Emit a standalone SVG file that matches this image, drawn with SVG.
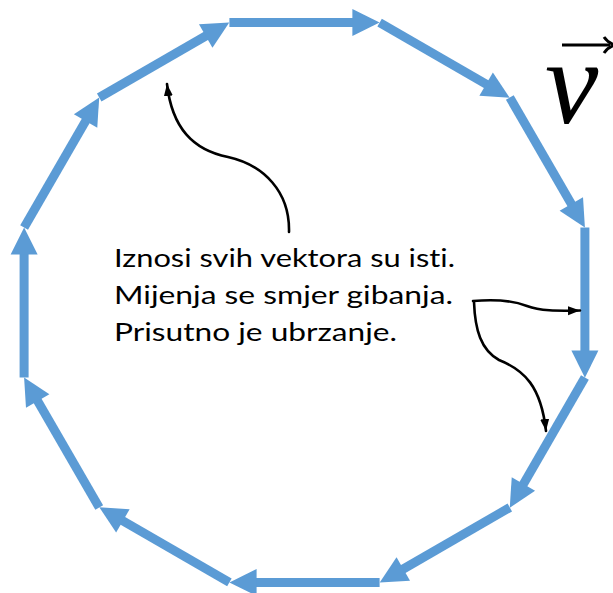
<svg xmlns="http://www.w3.org/2000/svg" xmlns:xlink="http://www.w3.org/1999/xlink" width="613" height="593" viewBox="0 0 613 593">
<style>
.shaft{stroke:#5B9BD5;stroke-width:9;fill:none;stroke-linecap:butt}
.head{fill:#5B9BD5;stroke:none}
.note{font-family:Lato,"Open Sans","Liberation Sans",sans-serif;font-size:25.5px;fill:#000;font-variant-ligatures:none;font-feature-settings:"liga" 0}
.pointer{fill:none;stroke:#000;stroke-width:2.6;stroke-linecap:round;stroke-linejoin:round}
</style>
<defs>
<g id="vec">
<line class="shaft" x1="0" y1="0" x2="126" y2="0"/>
<polygon class="head" points="123,-13.5 150.2,0 123,13.5"/>
</g>
<marker id="tip" markerUnits="userSpaceOnUse" markerWidth="14" markerHeight="10" refX="12" refY="4.5" orient="auto">
<path d="M0,0 L12,4.5 L0,9 Z" fill="#000"/>
</marker>
</defs>
<rect width="613" height="593" fill="#fff"/>
<g id="velocity-vectors">
<use id="v0" xlink:href="#vec" transform="translate(229.4,22.6) rotate(0)"/>
<use id="v1" xlink:href="#vec" transform="translate(379.6,22.6) rotate(30)"/>
<use id="v2" xlink:href="#vec" transform="translate(509.8,97.5) rotate(60)"/>
<use id="v3" xlink:href="#vec" transform="translate(584.9,227.6) rotate(90)"/>
<use id="v4" xlink:href="#vec" transform="translate(584.9,377.6) rotate(120)"/>
<use id="v5" xlink:href="#vec" transform="translate(509.8,507.5) rotate(150)"/>
<use id="v6" xlink:href="#vec" transform="translate(379.6,582.4) rotate(180)"/>
<use id="v7" xlink:href="#vec" transform="translate(229.4,582.4) rotate(210)"/>
<use id="v8" xlink:href="#vec" transform="translate(99.2,507.5) rotate(240)"/>
<use id="v9" xlink:href="#vec" transform="translate(24.1,377.6) rotate(270)"/>
<use id="v10" xlink:href="#vec" transform="translate(24.1,227.6) rotate(300)"/>
<use id="v11" xlink:href="#vec" transform="translate(99.2,97.5) rotate(330)"/>
</g>
<g id="symbol-v">
<text x="545" y="123" font-family="'Liberation Serif','DejaVu Serif',serif" font-style="italic" font-size="120" fill="#000">v</text>
<path d="M562,45 H610" stroke="#000" stroke-width="3" fill="none"/>
<path d="M604,37 Q608,43 615,45 Q608,47 604,53" stroke="#000" stroke-width="3" fill="none"/>
</g>
<g id="label">
<text class="note" x="114" y="266.5" textLength="341" lengthAdjust="spacingAndGlyphs">Iznosi svih vektora su isti.</text>
<text class="note" x="114" y="303.5" textLength="339" lengthAdjust="spacingAndGlyphs">Mijenja se smjer gibanja.</text>
<text class="note" x="114" y="340.5" textLength="283" lengthAdjust="spacingAndGlyphs">Prisutno je ubrzanje.</text>
</g>
<g id="connectors">
<path class="pointer" marker-end="url(#tip)" d="M289,232 C290,192 264,165 228,157 C193,150 172,128 167,84"/>
<path class="pointer" marker-end="url(#tip)" d="M473,301 C495,299 514,301 527,306 C540,311 556,311 580,310.5"/>
<path class="pointer" marker-end="url(#tip)" d="M474,302 C475,330 481,350 499,360 C524,370 541,386 546,431"/>
</g>
</svg>
